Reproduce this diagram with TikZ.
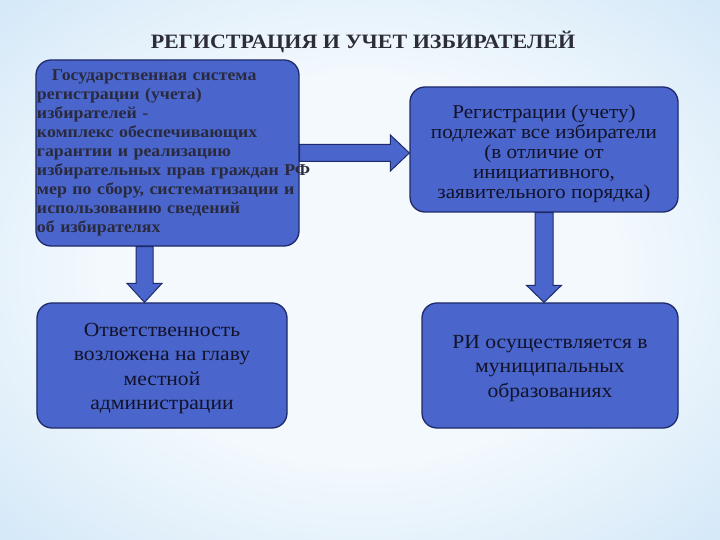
\documentclass[tikz,border=0pt]{standalone}
\usepackage{fontspec}
\setmainfont{Liberation Serif}[FakeStretch=1.08]
\usetikzlibrary{calc}
\definecolor{boxfill}{RGB}{74,102,204}
\definecolor{boxdraw}{RGB}{30,42,105}
\definecolor{txtdark}{RGB}{18,18,40}
\definecolor{txtone}{RGB}{42,42,62}
\definecolor{titlec}{RGB}{45,45,55}
\definecolor{bgin}{RGB}{243,249,253}
\definecolor{bgout}{RGB}{148,197,238}
\pgfdeclareradialshading{bgshade}{\pgfpoint{0bp}{0bp}}{color(0bp)=(bgin); color(18bp)=(bgin); color(72bp)=(bgout)}
\begin{document}
\begin{tikzpicture}[x=1bp,y=-1bp,
  box/.style={draw=boxdraw, line width=1.3bp, fill=boxfill, rounded corners=15bp, inner sep=0pt, align=center, text=txtdark},
  barrow/.style={fill=boxfill, draw=boxdraw, line width=1bp, line join=miter}]
\useasboundingbox (0,0) rectangle (720,540);
\shade[shading=bgshade] (0,0) rectangle (720,540);

\node[text=titlec, font=\bfseries\fontsize{20.4bp}{24bp}\selectfont] (title) at (363,42) {РЕГИСТРАЦИЯ И УЧЕТ ИЗБИРАТЕЛЕЙ};

\node[box, minimum width=263bp, minimum height=186bp, text width=261bp, align=left, text=txtone,
  font=\bfseries\fontsize{16.5bp}{19bp}\selectfont] (b1) at (167.5,153)
  {\hspace*{15bp}Государственная система\\
   регистрации (учета)\\
   избирателей -\\
   комплекс обеспечивающих\\
   гарантии и реализацию\\
   \mbox{избирательных прав граждан РФ}\\
   мер по сбору, систематизации и\\
   использованию сведений\\
   об избирателях};

\node[box, minimum width=268bp, minimum height=125bp, font=\fontsize{19.6bp}{20bp}\selectfont] (b2) at (544,149.5)
  {\rule{0pt}{22bp}Регистрации (учету)\\подлежат все избиратели\\(в отличие от\\инициативного,\\заявительного порядка)};

\node[box, minimum width=250bp, minimum height=125bp, font=\fontsize{20bp}{24.5bp}\selectfont] (b3) at (162,365.5)
  {\rule{0pt}{19bp}Ответственность\\возложена на главу\\местной\\администрации};

\node[box, minimum width=256bp, minimum height=125bp, font=\fontsize{20bp}{24.5bp}\selectfont] (b4) at (550,365.5)
  {\rule{0pt}{19bp}РИ осуществляется в\\муниципальных\\образованиях};

% right arrow b1 -> b2
\coordinate (ra1) at (b1.east);
\coordinate (ra2) at (ra1 -| b2.west);
\draw[barrow] ($(ra1)+(0,-8.5)$) -- ($(ra2)+(-19,-8.5)$) -- ($(ra2)+(-19,-18)$) -- (ra2)
  -- ($(ra2)+(-19,18)$) -- ($(ra2)+(-19,8.5)$) -- ($(ra1)+(0,8.5)$) -- cycle;

% down arrow b1 -> b3
\coordinate (la1) at ($(b1.south)+(-23,0)$);
\coordinate (la2) at (la1 |- b3.north);
\draw[barrow] ($(la1)+(-8.5,0)$) -- ($(la2)+(-8.5,-19)$) -- ($(la2)+(-17.5,-19)$) -- (la2)
  -- ($(la2)+(17.5,-19)$) -- ($(la2)+(8.5,-19)$) -- ($(la1)+(8.5,0)$) -- cycle;

% down arrow b2 -> b4
\coordinate (rd1) at (b2.south);
\coordinate (rd2) at (rd1 |- b4.north);
\draw[barrow] ($(rd1)+(-9,0)$) -- ($(rd2)+(-9,-17)$) -- ($(rd2)+(-17.5,-17)$) -- (rd2)
  -- ($(rd2)+(17.5,-17)$) -- ($(rd2)+(9,-17)$) -- ($(rd1)+(9,0)$) -- cycle;
\end{tikzpicture}
\end{document}
